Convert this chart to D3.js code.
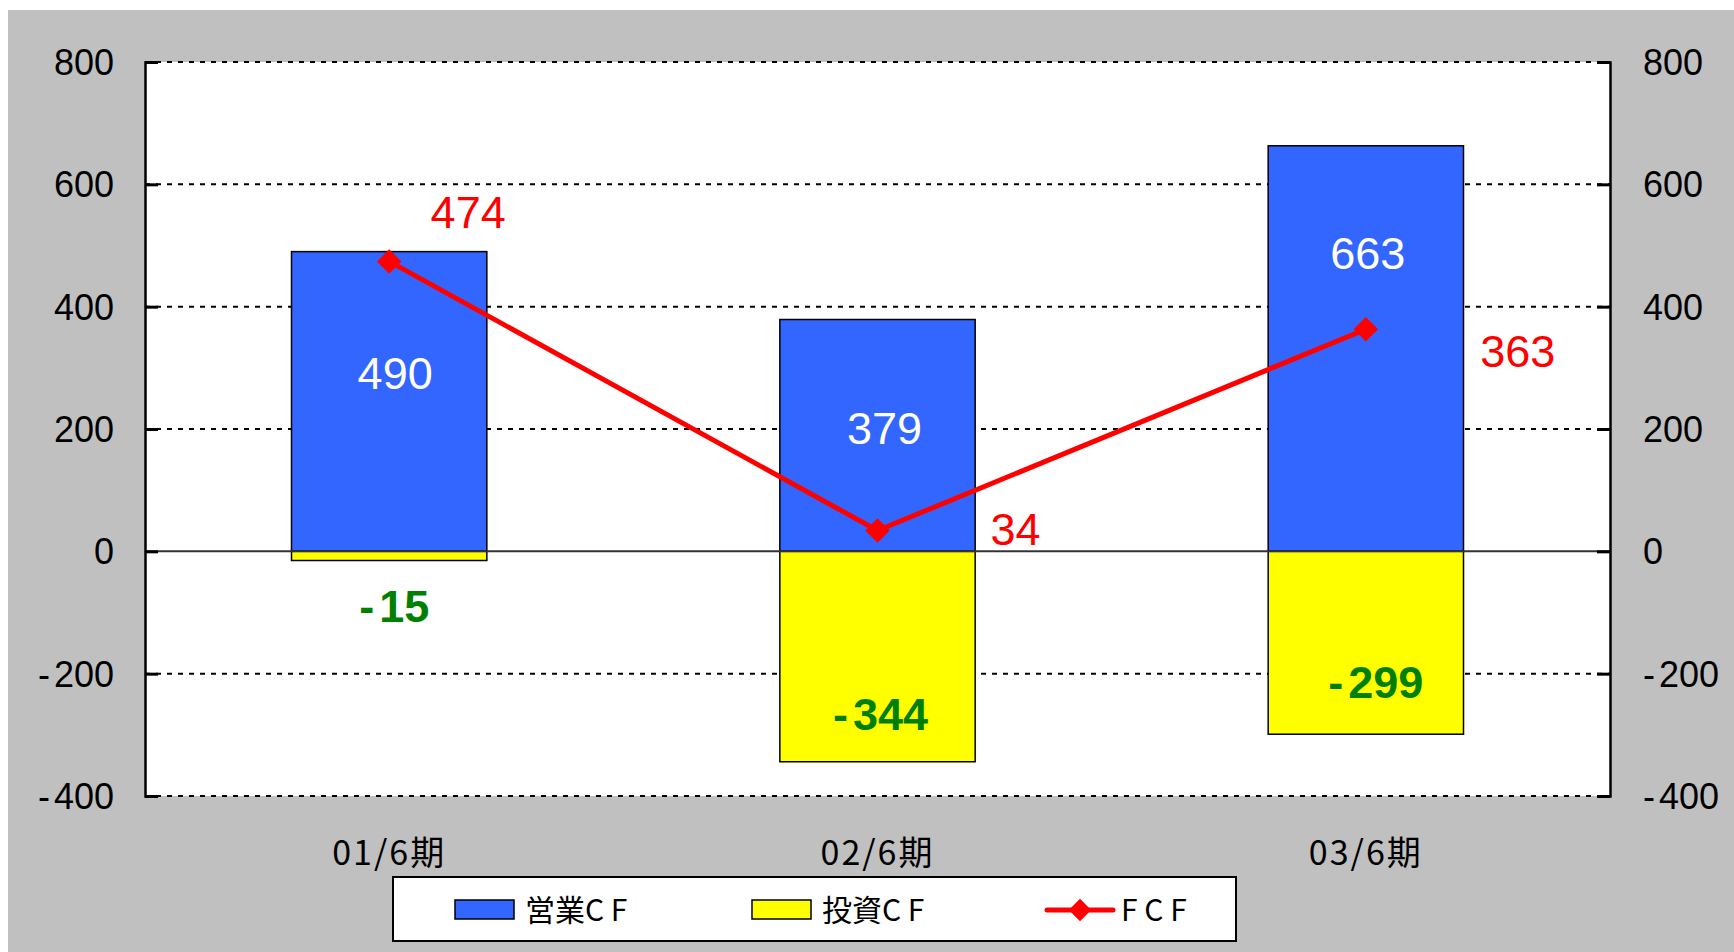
<!DOCTYPE html>
<html>
<head>
<meta charset="utf-8">
<script src="https://cdn.jsdelivr.net/npm/d3@7"></script>
<style>
  body { margin: 0; background: #fff; }
  text { font-family: "Liberation Sans", Arial, sans-serif; }
  .jp { font-family: "Noto Sans CJK JP", sans-serif; }
</style>
</head>
<body>
<script>
// data
var periods = ["01/6期", "02/6期", "03/6期"];
var eigyoCF = [490, 379, 663];
var toushiCF = [-15, -344, -299];
var fcf = [474, 34, 363];
var yTicks = [800, 600, 400, 200, 0, -200, -400];
var legendNames = ["営業C F", "投資C F", "F C F"];

// label nudges (px) - placed by hand in the original
var blueNudge = [[6, -28], [7, -7], [2, -96]];
var greenNudge = [[5, 50], [3, 57], [10, 39]];
var redNudge = [[79, -49], [138, -2], [152, 22]];

var W = 1734, H = 952;
var plotL = 145, plotR = 1610, plotT = 62, plotB = 796;

var svg = d3.select("body").append("svg")
  .attr("width", W).attr("height", H);

svg.append("rect").attr("x", 8).attr("y", 10)
  .attr("width", W - 8).attr("height", H - 10).attr("fill", "#c0c0c0");

svg.append("rect").attr("x", plotL).attr("y", plotT)
  .attr("width", plotR - plotL).attr("height", plotB - plotT).attr("fill", "#fff");

var x = d3.scaleBand().domain(periods).range([plotL, plotR]).padding(0);
var y = d3.scaleLinear().domain([-400, 800]).range([plotB, plotT]);

var barW = x.bandwidth() * 0.4;
function cx(i) { return x(periods[i]) + x.bandwidth() / 2; }

// gridlines
svg.append("g").selectAll("line")
  .data(yTicks.filter(function(d) { return d != 0; }))
  .enter().append("line")
  .attr("x1", plotL).attr("x2", plotR)
  .attr("y1", function(d) { return y(d); })
  .attr("y2", function(d) { return y(d); })
  .attr("stroke", "#000").attr("stroke-width", 2)
  .attr("stroke-dasharray", "5,6");

// bars
svg.append("g").selectAll("rect")
  .data(eigyoCF).enter().append("rect")
  .attr("x", function(d, i) { return cx(i) - barW / 2; })
  .attr("y", function(d) { return y(d); })
  .attr("width", barW)
  .attr("height", function(d) { return y(0) - y(d); })
  .attr("fill", "#3366ff").attr("stroke", "#000").attr("stroke-width", 1.5);

svg.append("g").selectAll("rect")
  .data(toushiCF).enter().append("rect")
  .attr("x", function(d, i) { return cx(i) - barW / 2; })
  .attr("y", y(0))
  .attr("width", barW)
  .attr("height", function(d) { return y(d) - y(0); })
  .attr("fill", "#ffff00").attr("stroke", "#000").attr("stroke-width", 1.5);

// zero line
svg.append("line").attr("x1", plotL).attr("x2", plotR)
  .attr("y1", y(0)).attr("y2", y(0))
  .attr("stroke", "#333").attr("stroke-width", 2);

// axes
var axL = d3.axisLeft(y).tickValues(yTicks).tickSize(-13).tickPadding(0).tickFormat("");
var axR = d3.axisRight(y).tickValues(yTicks).tickSize(-13).tickPadding(0).tickFormat("");
var gL = svg.append("g").attr("transform", "translate(" + plotL + ",0)").call(axL);
var gR = svg.append("g").attr("transform", "translate(" + plotR + ",0)").call(axR);
[gL, gR].forEach(function(g) {
  g.select(".domain").attr("stroke", "#000").attr("stroke-width", 2.5);
  g.selectAll(".tick line").attr("stroke", "#000").attr("stroke-width", 3);
});

function numLabel(sel, d) {
  if (d < 0) {
    sel.append("tspan").text("-");
    sel.append("tspan").attr("dx", 4).text(String(-d));
  } else {
    sel.text(d);
  }
}

svg.append("g").selectAll("text").data(yTicks).enter().append("text")
  .attr("x", plotL - 31).attr("y", function(d) { return y(d) + 13; })
  .attr("text-anchor", "end").attr("font-size", 36).attr("fill", "#000")
  .each(function(d) { numLabel(d3.select(this), d); });

svg.append("g").selectAll("text").data(yTicks).enter().append("text")
  .attr("x", plotR + 33).attr("y", function(d) { return y(d) + 13; })
  .attr("text-anchor", "start").attr("font-size", 36).attr("fill", "#000")
  .each(function(d) { numLabel(d3.select(this), d); });

// x labels
svg.append("g").selectAll("text").data(periods).enter().append("text")
  .attr("class", "jp")
  .attr("x", function(d, i) { return cx(i); })
  .attr("y", 865)
  .attr("text-anchor", "middle").attr("font-size", 34)
  .attr("letter-spacing", 2).attr("fill", "#000")
  .text(function(d) { return d; });

// FCF line
var line = d3.line()
  .x(function(d, i) { return cx(i); })
  .y(function(d) { return y(d); });

svg.append("path").datum(fcf)
  .attr("d", line).attr("fill", "none")
  .attr("stroke", "#ff0000").attr("stroke-width", 5);

var diamond = d3.symbol().type(d3.symbolSquare).size(300);
svg.append("g").selectAll("path").data(fcf).enter().append("path")
  .attr("d", diamond)
  .attr("transform", function(d, i) { return "translate(" + cx(i) + "," + y(d) + ") rotate(45)"; })
  .attr("fill", "#ff0000");

// value labels
svg.append("g").selectAll("text").data(eigyoCF).enter().append("text")
  .attr("x", function(d, i) { return cx(i) + blueNudge[i][0]; })
  .attr("y", function(d, i) { return y(d / 2) + blueNudge[i][1] + 16; })
  .attr("text-anchor", "middle").attr("font-size", 45).attr("fill", "#fff")
  .text(function(d) { return d; });

svg.append("g").selectAll("text").data(toushiCF).enter().append("text")
  .attr("x", function(d, i) { return cx(i) + greenNudge[i][0]; })
  .attr("y", function(d, i) { return y(d / 2) + greenNudge[i][1] + 16; })
  .attr("text-anchor", "middle").attr("font-size", 45).attr("font-weight", "bold")
  .attr("fill", "#008000")
  .each(function(d) {
    var t = d3.select(this);
    t.append("tspan").text("-");
    t.append("tspan").attr("dx", 5).text(String(-d));
  });

svg.append("g").selectAll("text").data(fcf).enter().append("text")
  .attr("x", function(d, i) { return cx(i) + redNudge[i][0]; })
  .attr("y", function(d, i) { return y(d) + redNudge[i][1] + 16; })
  .attr("text-anchor", "middle").attr("font-size", 45).attr("fill", "#ff0000")
  .text(function(d) { return d; });

// legend
var lg = svg.append("g");
lg.append("rect").attr("x", 393).attr("y", 877).attr("width", 843).attr("height", 64)
  .attr("fill", "#fff").attr("stroke", "#000").attr("stroke-width", 2);

var legX = [455, 752, 1047];
var legFill = ["#3366ff", "#ffff00", null];
legendNames.forEach(function(name, i) {
  if (legFill[i]) {
    lg.append("rect").attr("x", legX[i]).attr("y", 900).attr("width", 59).attr("height", 19)
      .attr("fill", legFill[i]).attr("stroke", "#000").attr("stroke-width", 1.5);
  } else {
    lg.append("line").attr("x1", legX[i]).attr("x2", legX[i] + 66)
      .attr("y1", 910).attr("y2", 910)
      .attr("stroke", "#ff0000").attr("stroke-width", 5).attr("stroke-linecap", "round");
    lg.append("path").attr("d", d3.symbol().type(d3.symbolSquare).size(250))
      .attr("transform", "translate(" + (legX[i] + 33) + ",910) rotate(45)")
      .attr("fill", "#ff0000");
  }
  lg.append("text").attr("class", "jp")
    .attr("x", legX[i] + (legFill[i] ? 70 : 74)).attr("y", 921)
    .attr("font-size", 30).attr("fill", "#000")
    .text(name);
});
</script>
</body>
</html>
